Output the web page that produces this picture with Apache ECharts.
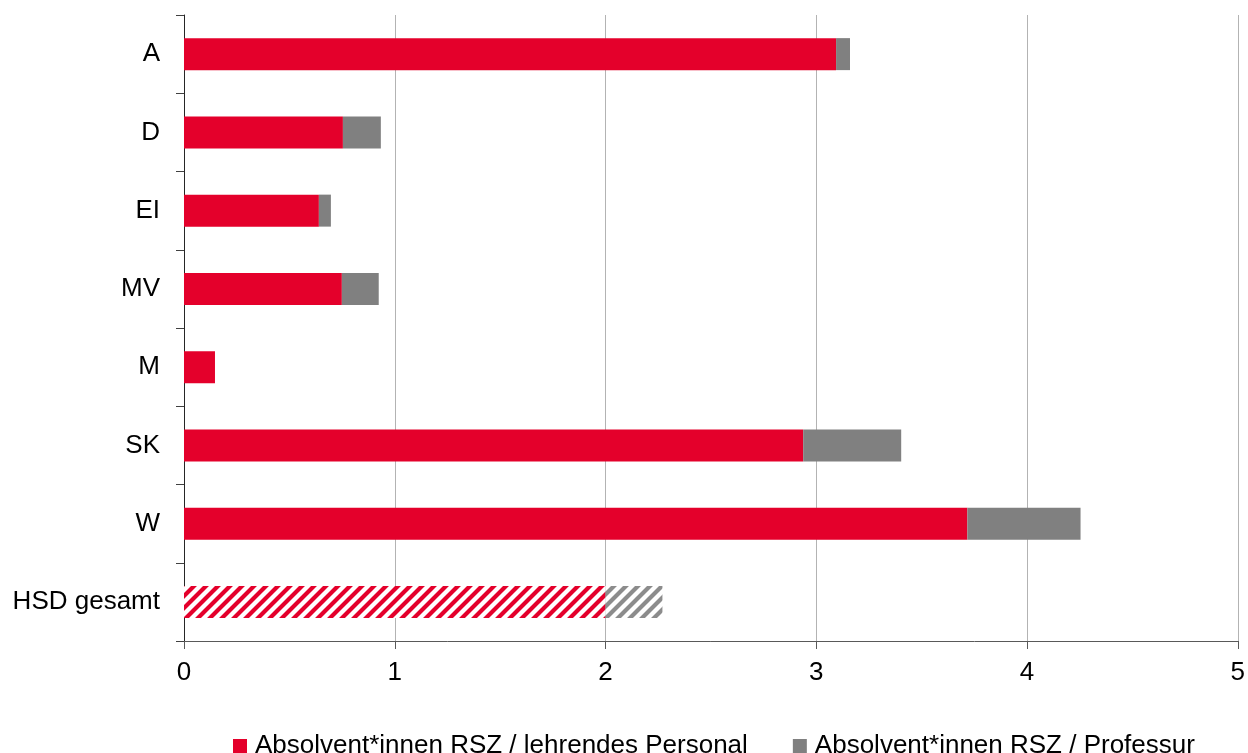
<!DOCTYPE html>
<html>
<head>
<meta charset="utf-8">
<script src="https://cdn.jsdelivr.net/npm/echarts@6/dist/echarts.min.js"></script>
<style>
html,body{margin:0;padding:0;background:#fff;}
#chart{width:1248px;height:753px;}
</style>
</head>
<body>
<div id="chart"></div>
<script>
const categories = ['A', 'D', 'EI', 'MV', 'M', 'SK', 'W', 'HSD gesamt'];
const seriesNames = ['Absolvent*innen RSZ / lehrendes Personal', 'Absolvent*innen RSZ / Professur'];
const valuesPersonal = [3.094, 0.754, 0.640, 0.749, 0.147, 2.938, 3.717, 2.000];
const valuesProfessur = [0.066, 0.180, 0.057, 0.175, 0.000, 0.465, 0.537, 0.270];
const xTicks = [0, 1, 2, 3, 4, 5];
const hatchedCategory = 'HSD gesamt';

const RED = '#e4002b';
const GREY = '#808080';

function makeHatch(color) {
  const c = document.createElement('canvas');
  c.width = 12; c.height = 12;
  const g = c.getContext('2d');
  g.fillStyle = '#ffffff';
  g.fillRect(0, 0, 12, 12);
  g.strokeStyle = color;
  g.lineWidth = 4.2;
  g.lineCap = 'square';
  g.beginPath();
  g.moveTo(-2, 14); g.lineTo(14, -2);
  g.moveTo(-8, 8); g.lineTo(8, -8);
  g.moveTo(4, 20); g.lineTo(20, 4);
  g.stroke();
  return c;
}

function buildData(values, color) {
  return values.map((v, i) => {
    if (categories[i] === hatchedCategory) {
      return { value: v, itemStyle: { color: { image: makeHatch(color), repeat: 'repeat' } } };
    }
    return v;
  });
}

const chart = echarts.init(document.getElementById('chart'), null, { renderer: 'canvas' });
const font = 'Liberation Sans, Arial, sans-serif';

chart.setOption({
  animation: false,
  textStyle: { fontFamily: font },
  grid: { left: 184, right: 9, top: 15, bottom: 112, containLabel: false },
  legend: {
    left: 228,
    top: 728,
    itemWidth: 14,
    itemHeight: 14,
    itemGap: 45,
    icon: 'rect',
    textStyle: { fontSize: 26, color: '#000', fontFamily: font, lineHeight: 26, padding: [0, 0, 0, 3] },
    data: seriesNames
  },
  xAxis: {
    type: 'value',
    min: 0, max: 5, interval: 1,
    axisLine: { show: true, lineStyle: { color: '#595959', width: 1 } },
    axisTick: { show: true, length: 8, lineStyle: { color: '#595959' } },
    axisLabel: { fontSize: 26, color: '#000', margin: 19, fontFamily: font,
      formatter: v => xTicks.includes(v) ? String(v) : '' },
    splitLine: { show: true, lineStyle: { color: '#b3b3b3', width: 1 } }
  },
  yAxis: {
    type: 'category',
    inverse: true,
    data: categories,
    axisLine: { show: true, lineStyle: { color: '#262626', width: 1 } },
    axisTick: { show: true, length: 8, lineStyle: { color: '#404040' } },
    axisLabel: { fontSize: 26, color: '#000', margin: 24, fontFamily: font }
  },
  series: [
    {
      name: seriesNames[0], type: 'bar', stack: 'total', barWidth: 32,
      itemStyle: { color: RED },
      data: buildData(valuesPersonal, RED)
    },
    {
      name: seriesNames[1], type: 'bar', stack: 'total', barWidth: 32,
      itemStyle: { color: GREY },
      data: buildData(valuesProfessur, '#8c8c8c')
    }
  ]
});
</script>
</body>
</html>
